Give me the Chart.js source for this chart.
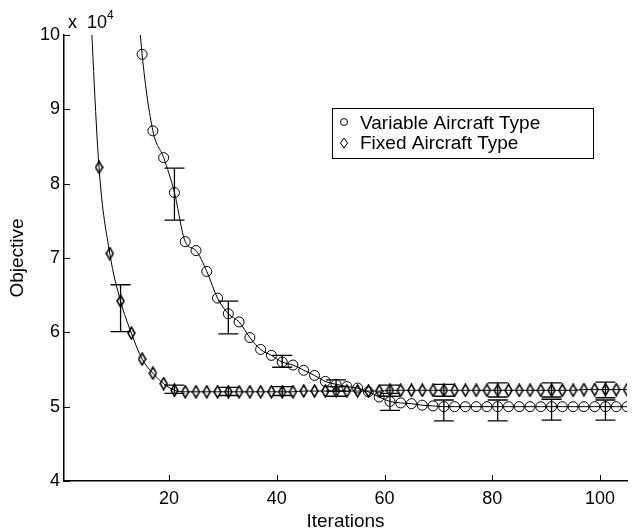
<!DOCTYPE html>
<html>
<head>
<meta charset="utf-8">
<script src="https://cdn.jsdelivr.net/npm/chart.js@4.4.1/dist/chart.umd.min.js"></script>
<style>
  html, body { margin: 0; padding: 0; background: #fff; }
  #wrap { width: 634px; height: 529px; position: relative; }
</style>
</head>
<body>
<div id="wrap"><canvas id="canvas1"></canvas></div>
<script>
// iterations where markers sit (every other iteration)
var fixedIter = [5, 7, 9, 11, 13, 15, 17, 19, 21, 23, 25, 27, 29, 31, 33, 35, 37, 39, 41, 43, 45,
    47, 49, 51, 53, 55, 57, 59, 61, 63, 65, 67, 69, 71, 73, 75, 77, 79, 81, 83, 85, 87, 89, 91,
    93, 95, 97, 99, 101, 103, 105];
var fixedObj = [11.0, 8.22, 7.06, 6.42, 5.99, 5.64, 5.45, 5.31, 5.22, 5.20, 5.20, 5.20, 5.20, 5.20,
    5.20, 5.20, 5.20, 5.20, 5.20, 5.20, 5.21, 5.21, 5.21, 5.21, 5.21, 5.21, 5.21, 5.21, 5.22, 5.22,
    5.22, 5.22, 5.22, 5.22, 5.22, 5.22, 5.22, 5.22, 5.22, 5.22, 5.22, 5.22, 5.22, 5.22, 5.22, 5.22,
    5.23, 5.23, 5.23, 5.23, 5.23];

var varIter = [13, 15, 17, 19, 21, 23, 25, 27, 29, 31, 33, 35, 37, 39, 41, 43, 45, 47, 49, 51, 53,
    55, 57, 59, 61, 63, 65, 67, 69, 71, 73, 75, 77, 79, 81, 83, 85, 87, 89, 91, 93, 95, 97, 99,
    101, 103, 105];
var varObj = [11.6, 9.74, 8.71, 8.35, 7.88, 7.22, 7.10, 6.82, 6.46, 6.25, 6.14, 5.93, 5.77, 5.69,
    5.60, 5.56, 5.49, 5.42, 5.34, 5.30, 5.27, 5.25, 5.20, 5.13, 5.07, 5.05, 5.04, 5.02, 5.01, 5.00,
    5.00, 5.00, 5.00, 5.00, 5.00, 5.00, 5.00, 5.00, 5.00, 5.00, 5.00, 5.00, 5.00, 5.00, 5.00, 5.00,
    5.00];

// error bars
var fixedErrIter = [11, 21, 31, 41, 51, 61, 71, 81, 91, 101];
var fixedLow  = [6.01, 5.18, 5.15, 5.15, 5.14, 5.14, 5.14, 5.13, 5.13, 5.12];
var fixedHigh = [6.64, 5.29, 5.26, 5.27, 5.27, 5.29, 5.30, 5.32, 5.32, 5.33];
var varErrIter = [21, 31, 41, 51, 61, 71, 81, 91, 101];
var varLow  = [7.51, 5.98, 5.53, 5.21, 4.95, 4.81, 4.81, 4.82, 4.82];
var varHigh = [8.21, 6.42, 5.69, 5.36, 5.18, 5.09, 5.09, 5.10, 5.09];

var xTicks = [20, 40, 60, 80, 100];
var yTicks = [4, 5, 6, 7, 8, 9, 10];

var FONT = '"Liberation Sans", Arial, Helvetica, sans-serif';

function makeDiamond(w, h) {
    var c = document.createElement('canvas');
    c.width = w + 2;
    c.height = h + 2;
    var g = c.getContext('2d');
    g.strokeStyle = '#000';
    g.lineWidth = 1.5;
    g.beginPath();
    g.moveTo(c.width / 2, 1);
    g.lineTo(c.width - 1, c.height / 2);
    g.lineTo(c.width / 2, c.height - 1);
    g.lineTo(1, c.height / 2);
    g.closePath();
    g.stroke();
    return c;
}
var diamond = makeDiamond(7, 12);

function toPoints(xs, ys) {
    return xs.map(function(x, i) { return {x: x, y: ys[i]}; });
}

var extras = {
    id: 'extras',
    afterDatasetsDraw: function(chart) {
        var ctx = chart.ctx, xs = chart.scales.x, ys = chart.scales.y, a = chart.chartArea;

        ctx.save();
        ctx.beginPath();
        ctx.rect(a.left, a.top - 2, a.right - a.left, a.bottom - a.top + 2);
        ctx.clip();
        ctx.strokeStyle = '#000';
        ctx.lineWidth = 1.3;
        function bars(iters, lo, hi) {
            for (var i = 0; i < iters.length; i++) {
                var px = xs.getPixelForValue(iters[i]);
                var y1 = ys.getPixelForValue(lo[i]);
                var y2 = ys.getPixelForValue(hi[i]);
                ctx.beginPath();
                ctx.moveTo(px, y1); ctx.lineTo(px, y2);
                ctx.moveTo(px - 10, y1); ctx.lineTo(px + 10, y1);
                ctx.moveTo(px - 10, y2); ctx.lineTo(px + 10, y2);
                ctx.stroke();
            }
        }
        bars(fixedErrIter, fixedLow, fixedHigh);
        bars(varErrIter, varLow, varHigh);
        ctx.restore();

        // inward tick marks
        ctx.save();
        ctx.strokeStyle = '#000';
        ctx.lineWidth = 1;
        ctx.beginPath();
        xTicks.forEach(function(v) {
            var px = Math.round(xs.getPixelForValue(v)) + 0.5;
            ctx.moveTo(px, a.bottom); ctx.lineTo(px, a.bottom - 6);
        });
        yTicks.forEach(function(v) {
            var py = Math.round(ys.getPixelForValue(v)) + 0.5;
            ctx.moveTo(a.left, py); ctx.lineTo(a.left + 6, py);
        });
        ctx.stroke();

        // exponent label
        ctx.fillStyle = '#000';
        ctx.textBaseline = 'alphabetic';
        ctx.textAlign = 'left';
        ctx.font = '18px ' + FONT;
        ctx.fillText('x', 68, 28);
        ctx.fillText('10', 87, 28);
        ctx.font = '12px ' + FONT;
        ctx.fillText('4', 107, 19);

        // legend
        ctx.lineWidth = 1;
        ctx.strokeRect(332.5, 108.5, 261, 50);
        ctx.beginPath();
        ctx.arc(344, 122, 3.5, 0, Math.PI * 2);
        ctx.stroke();
        ctx.beginPath();
        ctx.moveTo(344, 138); ctx.lineTo(347.5, 143); ctx.lineTo(344, 148); ctx.lineTo(340.5, 143);
        ctx.closePath();
        ctx.stroke();
        ctx.font = '19px ' + FONT;
        ctx.fillText('Variable Aircraft Type', 360, 128.5);
        ctx.fillText('Fixed Aircraft Type', 360, 149);
        ctx.restore();
    }
};

var config1 = {
    type: 'line',
    data: {
        datasets: [{
            label: 'Variable Aircraft Type',
            data: toPoints(varIter, varObj),
            borderColor: '#000',
            borderWidth: 1,
            backgroundColor: 'rgba(0,0,0,0)',
            pointStyle: 'circle',
            pointRadius: 5,
            pointBorderWidth: 1,
            pointBorderColor: '#000',
            pointBackgroundColor: 'rgba(0,0,0,0)',
            cubicInterpolationMode: 'monotone'
        }, {
            label: 'Fixed Aircraft Type',
            data: toPoints(fixedIter, fixedObj),
            borderColor: '#000',
            borderWidth: 1,
            backgroundColor: 'rgba(0,0,0,0)',
            pointStyle: diamond,
            pointRadius: 6,
            cubicInterpolationMode: 'monotone'
        }]
    },
    options: {
        responsive: true,
        maintainAspectRatio: false,
        animation: false,
        layout: {
            padding: {top: 35, right: 0, left: 0, bottom: 0}
        },
        plugins: {
            legend: {display: false},
            tooltip: {enabled: false}
        },
        scales: {
            x: {
                type: 'linear',
                min: 0.5,
                max: 105,
                afterBuildTicks: function(scale) {
                    scale.ticks = xTicks.map(function(v) { return {value: v}; });
                },
                afterFit: function(scale) { scale.height = 48; },
                grid: {display: false, drawTicks: false},
                border: {display: true, color: '#000', width: 1.5},
                ticks: {color: '#000', font: {family: FONT, size: 18}, padding: 7, maxRotation: 0},
                title: {
                    display: true,
                    text: 'Iterations',
                    color: '#000',
                    font: {family: FONT, size: 19},
                    padding: {top: 0, bottom: -4}
                }
            },
            y: {
                min: 4,
                max: 10,
                afterBuildTicks: function(scale) {
                    scale.ticks = yTicks.map(function(v) { return {value: v}; });
                },
                afterFit: function(scale) { scale.width = 64; },
                grid: {display: false, drawTicks: false},
                border: {display: true, color: '#000', width: 1.5},
                ticks: {color: '#000', font: {family: FONT, size: 18}, padding: 4},
                title: {
                    display: true,
                    text: 'Objective',
                    color: '#000',
                    font: {family: FONT, size: 19},
                    padding: {top: 6, bottom: 0}
                }
            }
        }
    },
    plugins: [extras]
};

function loadChart() {
    var ctx = document.getElementById('canvas1').getContext('2d');
    window.myLine = new Chart(ctx, config1);
}
loadChart();
</script>
</body>
</html>
